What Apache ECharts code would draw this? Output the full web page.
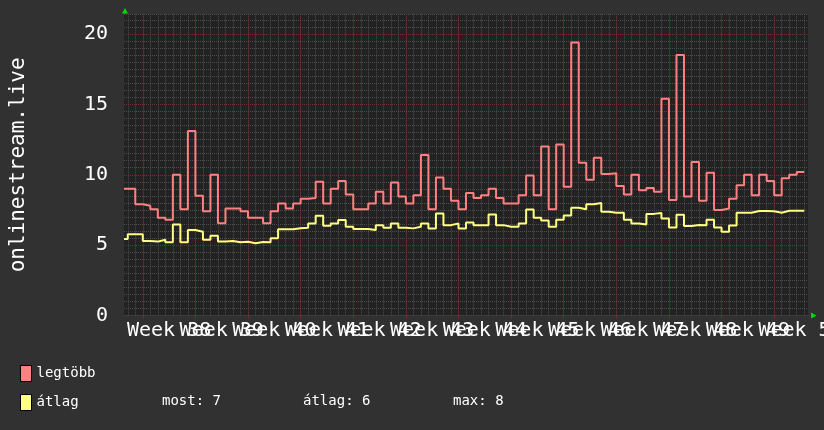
<!DOCTYPE html>
<html><head><meta charset="utf-8">
<script src="https://cdn.jsdelivr.net/npm/echarts@6/dist/echarts.min.js"></script>
<style>html,body{margin:0;padding:0;background:#313131;}#c{width:824px;height:430px;}</style>
</head><body><div id="c"></div>
<script>
// ---- data (one value per day, 91 days) ----
const weekLabels = ['Week 38','Week 39','Week 40','Week 41','Week 42','Week 43','Week 44','Week 45','Week 46','Week 47','Week 48','Week 49','Week 50'];
const seriesNames = ['legtöbb', 'átlag'];
const legtobb = [9.0,9.0,7.9,7.8,7.55,6.95,6.8,10.0,7.55,13.1,
  8.5,7.4,10.0,6.55,7.6,7.6,7.4,6.95,6.95,6.55,
  7.4,7.95,7.6,7.95,8.3,8.35,9.5,7.95,9.0,9.55,
  8.6,7.55,7.55,7.95,8.8,7.95,9.45,8.45,7.95,8.55,
  11.4,7.55,9.8,9.0,8.15,7.55,8.7,8.35,8.55,9.0,
  8.35,7.95,7.95,8.55,9.95,8.55,12.0,7.55,12.15,9.15,
  19.4,10.85,9.65,11.2,10.05,10.1,9.2,8.6,10.0,8.9,
  9.05,8.8,15.4,8.2,18.5,8.45,10.9,8.15,10.15,7.5,
  7.6,8.3,9.25,10.0,8.55,10.0,9.55,8.55,9.75,10.0,
  10.2];
const atlag = [5.43,5.78,5.78,5.3,5.25,5.38,5.2,6.47,5.2,6.07,
  5.95,5.38,5.66,5.26,5.3,5.2,5.24,5.14,5.22,5.2,
  5.48,6.12,6.12,6.2,6.23,6.54,7.09,6.38,6.54,6.78,
  6.31,6.14,6.14,6.07,6.42,6.23,6.54,6.23,6.19,6.31,
  6.54,6.19,7.25,6.42,6.54,6.19,6.61,6.42,6.42,7.18,
  6.42,6.31,6.31,6.54,7.53,6.94,6.75,6.3,6.8,7.1,
  7.65,7.55,7.9,8.0,7.37,7.3,7.3,6.8,6.54,6.47,
  7.22,7.28,6.9,6.25,7.15,6.36,6.43,6.41,6.8,6.25,
  5.95,6.4,7.3,7.3,7.42,7.42,7.4,7.3,7.44,7.44,
  7.44];
const statTexts = ['most: 7', 'átlag: 6', 'max: 8'];
const yAxisTitle = 'onlinestream.live';

// ---- time axis in half-day slots; window starts at noon, 2.5 days before Week 38 ----
const SLOTS = 182;
const FIRST_WEEK_SLOT = 5;   // slot index of first week boundary
const SLOTS_PER_WEEK = 14;
const categories = [];
for (let i = 0; i <= SLOTS; i++) categories.push(String(i));
function dayPoints(vals) {
  const pts = vals.map((v, d) => [Math.max(0, 2 * d - 1), v]);
  pts.push([2 * vals.length - 1, vals[vals.length - 1]]);
  return pts;
}
const isWeek = i => (i - FIRST_WEEK_SLOT) % SLOTS_PER_WEEK === 0 && i >= FIRST_WEEK_SLOT;
const isMidWeek = i => (i - FIRST_WEEK_SLOT - 7) % SLOTS_PER_WEEK === 0 && i >= FIRST_WEEK_SLOT + 7;

const MONO = 'DejaVu Sans Mono';
const minorColor = '#4e4e4e';
const majorColor = '#7c2a2a';

const chart = echarts.init(document.getElementById('c'), null, {renderer: 'canvas'});
chart.setOption({
  animation: false,
  backgroundColor: '#313131',
  grid: [
    {left: 124, width: 684, top: 14.3, height: 301.2, show: true, backgroundColor: '#222222', borderWidth: 0, outerBoundsMode: 'none'},
    {left: 124, width: 684, top: 34.0, height: 281.5, show: false, outerBoundsMode: 'none'}
  ],
  xAxis: [
    {type: 'category', gridIndex: 0, data: categories, boundaryGap: false, position: 'bottom',
     axisLine: {show: false}, axisTick: {show: false}, axisLabel: {show: false},
     splitLine: {show: true, interval: (i) => i % 2 === 1, lineStyle: {color: minorColor, width: 1, type: [1, 1]}}},
    {type: 'category', gridIndex: 0, data: categories, boundaryGap: false, position: 'bottom',
     axisLine: {show: true, lineStyle: {color: '#3c3c3c', width: 1}},
     axisTick: {show: true, interval: (i) => isWeek(i), length: 3, lineStyle: {color: majorColor}},
     axisLabel: {show: true, interval: (i) => isMidWeek(i) || i === 0 || i === SLOTS, hideOverlap: false,
       margin: 5, color: '#ffffff', fontFamily: MONO, fontSize: 20,
       formatter: (v, i) => isMidWeek(i) ? weekLabels[(i - FIRST_WEEK_SLOT - 7) / SLOTS_PER_WEEK] : ''},
     splitLine: {show: true, interval: (i) => isWeek(i), lineStyle: {color: majorColor, width: 1, type: [1, 1]}}},
    {type: 'category', gridIndex: 1, data: categories, boundaryGap: false, show: false}
  ],
  yAxis: [
    {type: 'value', gridIndex: 0, min: 0, max: 21.4, interval: 0.5,
     name: yAxisTitle, nameLocation: 'middle', nameRotate: 90, nameGap: 95,
     nameTextStyle: {color: '#ffffff', fontFamily: MONO, fontSize: 21},
     axisLine: {show: false}, axisTick: {show: false}, axisLabel: {show: false},
     splitLine: {show: true, lineStyle: {color: minorColor, width: 1, type: [1, 1]}}},
    {type: 'value', gridIndex: 1, min: 0, max: 20, interval: 5,
     axisLine: {show: false}, axisTick: {show: false},
     axisLabel: {show: true, margin: 16, color: '#ffffff', fontFamily: MONO, fontSize: 20},
     splitLine: {show: true, lineStyle: {color: majorColor, width: 1, type: [1, 1]}}}
  ],
  legend: {
    data: seriesNames, orient: 'vertical', left: 20, top: 365, itemWidth: 11, itemHeight: 16, itemGap: 12,
    icon: 'rect', itemStyle: {borderColor: '#000000', borderWidth: 1},
    textStyle: {color: '#ffffff', fontFamily: MONO, fontSize: 14, lineHeight: 16}, padding: 0, selectedMode: false
  },
  series: [
    {name: seriesNames[0], type: 'line', xAxisIndex: 1, yAxisIndex: 0, step: 'end', symbol: 'none',
     data: dayPoints(legtobb), lineStyle: {color: '#ff8080', width: 2}, itemStyle: {color: '#ff8080'}},
    {name: seriesNames[1], type: 'line', xAxisIndex: 1, yAxisIndex: 0, step: 'end', symbol: 'none',
     data: dayPoints(atlag), lineStyle: {color: '#ffff80', width: 2}, itemStyle: {color: '#ffff80'}}
  ],
  graphic: [
    {type: 'polygon', shape: {points: [[125, 8], [122, 13.5], [128, 13.5]]}, style: {fill: '#00dd00'}},
    {type: 'polygon', shape: {points: [[816.5, 315.5], [811, 312.5], [811, 318.5]]}, style: {fill: '#00dd00'}},
    {type: 'text', left: 162, top: 394, style: {text: statTexts[0], fill: '#ffffff', font: '14px "DejaVu Sans Mono"'}},
    {type: 'text', left: 303, top: 394, style: {text: statTexts[1], fill: '#ffffff', font: '14px "DejaVu Sans Mono"'}},
    {type: 'text', left: 453, top: 394, style: {text: statTexts[2], fill: '#ffffff', font: '14px "DejaVu Sans Mono"'}}
  ]
});
</script></body></html>
